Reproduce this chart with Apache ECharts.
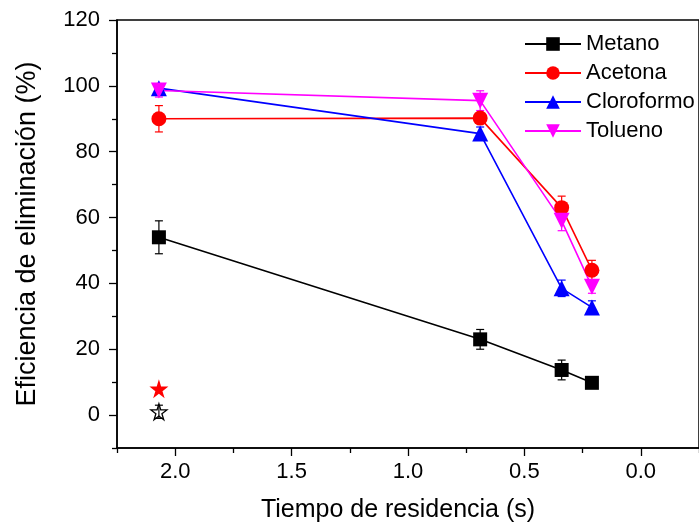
<!DOCTYPE html>
<html>
<head>
<meta charset="utf-8">
<script src="https://cdn.jsdelivr.net/npm/echarts@6/dist/echarts.min.js"></script>
<style>
  html, body { margin: 0; padding: 0; background: #fff; }
  #chart { width: 699px; height: 530px; }
</style>
</head>
<body>
<div id="chart"></div>
<script>
// tiempo de residencia (s)
var tiempos = [2.07, 0.69, 0.34, 0.21];

var metano = [54, 23, 13.7, 9.8];
var metanoErr = [5, 3, 3, 1];
var acetona = [90, 90.2, 63, 44];
var acetonaErr = [4, 1, 3.5, 3];
var cloroformo = [99.3, 85.5, 38.5, 32.7];
var cloroformoErr = [1, 2, 2.5, 2];
var tolueno = [98.6, 95.5, 59, 39];
var toluenoErr = [2, 3, 3, 2];

// puntos sueltos (estrellas) en t = 2.07 s
var estrellaX = 2.07;
var estrellaRoja = 8;
var estrellaNegra = 1;
var estrellaNegraErr = 2;

var xTicks = [0, 0.5, 1, 1.5, 2];
var xMinor = [-0.25, 0.25, 0.75, 1.25, 1.75, 2.25];
var yTicks = [0, 20, 40, 60, 80, 100, 120];
var yMinor = [-10, 10, 30, 50, 70, 90, 110];

var FONT = 'Liberation Sans';
var STAR = 'path://M50,0 L61,35 L98,35 L68,57 L79,91 L50,70 L21,91 L32,57 L2,35 L39,35 Z';

function pares(ys) {
    return tiempos.map(function(t, i) { return [t, ys[i]]; });
}

function barras(ys, errs) {
    return tiempos.map(function(t, i) { return [t, ys[i] - errs[i], ys[i] + errs[i]]; });
}

function serieError(nombre, datos, color) {
    return {
        name: nombre + ' err',
        type: 'custom',
        data: datos,
        z: 1,
        silent: true,
        renderItem: function(params, api) {
            var x = api.value(0);
            var lo = api.coord([x, api.value(1)]);
            var hi = api.coord([x, api.value(2)]);
            var w = 4;
            var st = { stroke: color, lineWidth: 1.2 };
            return {
                type: 'group',
                children: [
                    { type: 'line', shape: { x1: lo[0], y1: lo[1], x2: hi[0], y2: hi[1] }, style: st },
                    { type: 'line', shape: { x1: lo[0] - w, y1: lo[1], x2: lo[0] + w, y2: lo[1] }, style: st },
                    { type: 'line', shape: { x1: hi[0] - w, y1: hi[1], x2: hi[0] + w, y2: hi[1] }, style: st }
                ]
            };
        }
    };
}

function serieLinea(nombre, ys, color, simbolo, tam, rot) {
    return {
        name: nombre,
        type: 'line',
        data: pares(ys),
        symbol: simbolo,
        symbolSize: tam,
        symbolRotate: rot || 0,
        z: 3,
        lineStyle: { color: color, width: 1.6 },
        itemStyle: { color: color, borderWidth: 0, opacity: 1 }
    };
}

// eje solo de marcas (sin línea ni etiquetas)
function ejeMarcas(tipo, valores, largo) {
    var eje = {
        type: 'value',
        axisLine: { show: false, onZero: false },
        axisTick: { show: true, length: largo, customValues: valores, lineStyle: { color: '#000', width: 1.3 } },
        axisLabel: { show: false },
        splitLine: { show: false }
    };
    if (tipo === 'x') {
        eje.inverse = true; eje.min = -0.25; eje.max = 2.25; eje.position = 'bottom';
    } else {
        eje.min = -10; eje.max = 120; eje.position = 'left';
    }
    return eje;
}

var myChart = echarts.init(document.getElementById('chart'));

var option = {
    animation: false,
    backgroundColor: '#fff',
    grid: {
        left: 117,
        top: 20,
        width: 583,
        height: 428,
        show: true,
        borderColor: '#000',
        borderWidth: 1.5,
        backgroundColor: 'transparent'
    },
    legend: {
        data: ['Metano', 'Acetona', 'Cloroformo', 'Tolueno'],
        orient: 'vertical',
        left: 524,
        top: 33,
        itemWidth: 56,
        itemHeight: 17,
        itemGap: 7,
        padding: 0,
        textStyle: { fontFamily: FONT, fontSize: 22, lineHeight: 22, color: '#000' }
    },
    xAxis: [
        {
            type: 'value',
            inverse: true,
            min: -0.25,
            max: 2.25,
            position: 'bottom',
            name: 'Tiempo de residencia (s)',
            nameLocation: 'middle',
            nameGap: 50,
            nameTextStyle: { fontFamily: FONT, fontSize: 25, color: '#000', padding: [0, 20, 0, 0] },
            axisLine: { show: true, onZero: false, lineStyle: { color: '#000', width: 1.5 } },
            axisTick: { show: false },
            axisLabel: {
                customValues: xTicks,
                margin: 13,
                fontFamily: FONT,
                fontSize: 22,
                color: '#000',
                formatter: function(v) { return v.toFixed(1); }
            },
            splitLine: { show: false }
        },
        ejeMarcas('x', xTicks, 8),
        ejeMarcas('x', xMinor, 5)
    ],
    yAxis: [
        {
            type: 'value',
            min: -10,
            max: 120,
            position: 'left',
            name: 'Eficiencia de eliminación (%)',
            nameLocation: 'middle',
            nameGap: 76,
            nameRotate: 90,
            nameTextStyle: { fontFamily: FONT, fontSize: 27, color: '#000' },
            axisLine: { show: true, onZero: false, lineStyle: { color: '#000', width: 1.5 } },
            axisTick: { show: false },
            axisLabel: {
                customValues: yTicks,
                margin: 17,
                fontFamily: FONT,
                fontSize: 22,
                color: '#000'
            },
            splitLine: { show: false }
        },
        ejeMarcas('y', yTicks, 8),
        ejeMarcas('y', yMinor, 5)
    ],
    series: [
        serieError('Metano', barras(metano, metanoErr), '#000'),
        serieError('Acetona', barras(acetona, acetonaErr), '#ff0000'),
        serieError('Cloroformo', barras(cloroformo, cloroformoErr), '#0000ff'),
        serieError('Tolueno', barras(tolueno, toluenoErr), '#ff00ff'),
        serieError('Estrella', [[estrellaX, estrellaNegra - estrellaNegraErr, estrellaNegra + estrellaNegraErr]], '#000'),
        serieLinea('Metano', metano, '#000000', 'rect', 14),
        serieLinea('Acetona', acetona, '#ff0000', 'circle', 15),
        serieLinea('Cloroformo', cloroformo, '#0000ff', 'triangle', 16),
        serieLinea('Tolueno', tolueno, '#ff00ff', 'triangle', 16, 180),
        {
            name: 'estrella roja',
            type: 'scatter',
            data: [[estrellaX, estrellaRoja]],
            symbol: STAR,
            symbolSize: 19,
            z: 3,
            itemStyle: { color: '#ff0000', opacity: 1 }
        },
        {
            name: 'estrella negra',
            type: 'scatter',
            data: [[estrellaX, estrellaNegra]],
            symbol: STAR,
            symbolSize: 16,
            z: 3,
            itemStyle: { color: 'rgba(255,255,255,0)', borderColor: '#000', borderWidth: 1.3, opacity: 1 }
        }
    ]
};

myChart.setOption(option);
</script>
</body>
</html>
